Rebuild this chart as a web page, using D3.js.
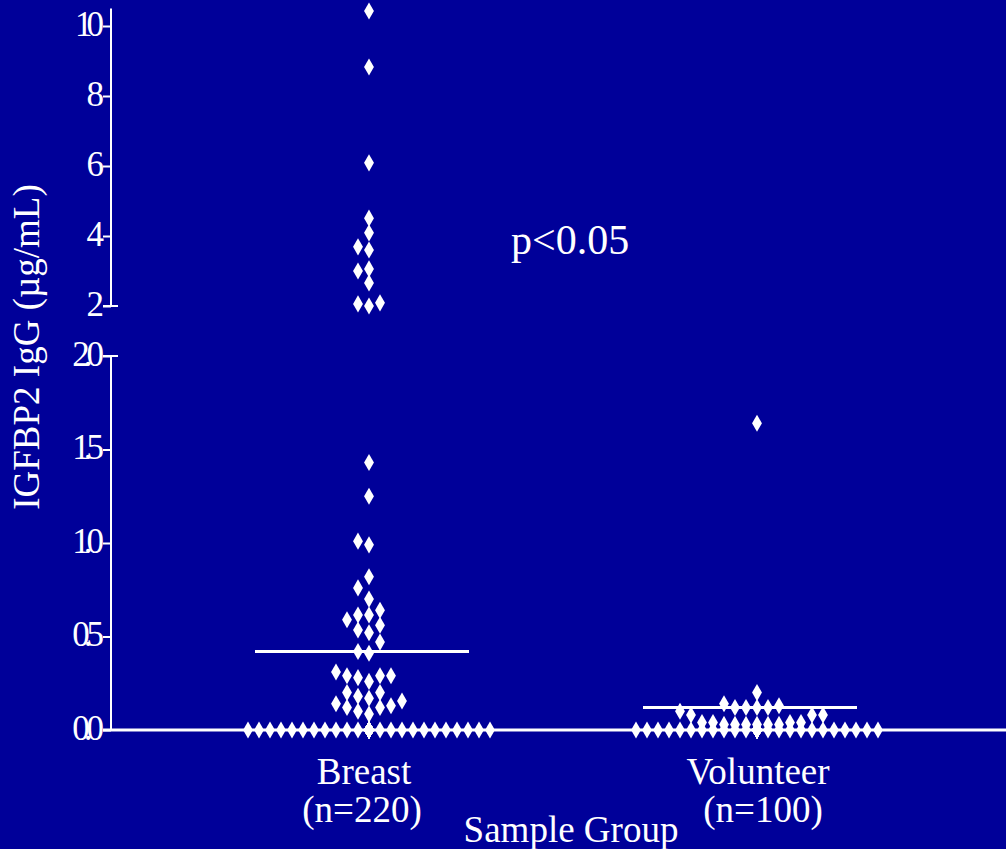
<!DOCTYPE html>
<html>
<head>
<meta charset="utf-8">
<script src="https://cdn.jsdelivr.net/npm/d3@7"></script>
<style>
  html, body { margin: 0; padding: 0; background: #000099; }
  svg { display: block; }
</style>
</head>
<body>
<svg id="chart" width="1006" height="849"></svg>
<script>
// IGFBP2 IgG antibody levels (µg/mL) per serum sample
const groups = ["Breast", "Volunteer"];
const groupSizes = ["(n=220)", "(n=100)"];

// Non-zero measurements; the remaining samples of each group read 0.0
const breastValues = [
  10.43, 8.83, 6.09, 4.51, 4.09, 3.69, 3.60, 3.06, 3.00, 2.66, 2.09, 2.06, 2.00,
  1.43, 1.25, 1.01, 0.99, 0.82, 0.76, 0.70, 0.64, 0.615, 0.615, 0.59, 0.56,
  0.535, 0.52, 0.47, 0.42, 0.41, 0.31, 0.29, 0.29, 0.29, 0.28, 0.26, 0.20,
  0.20, 0.18, 0.17, 0.155, 0.14, 0.13, 0.12, 0.12, 0.10, 0.085
];
const breastZeroCount = 173;

const volunteerValues = [
  1.64, 0.20, 0.14, 0.13, 0.12, 0.12, 0.12, 0.12, 0.10, 0.08, 0.08, 0.08,
  0.04, 0.04, 0.04, 0.04, 0.03, 0.03, 0.03, 0.03, 0.03, 0.03
];
const volunteerZeroCount = 78;

const groupMeans = [0.42, 0.12];

const lowerTicks = [0, 0.5, 1.0, 1.5, 2.0];
const upperTicks = [2, 4, 6, 8, 10];

const yTitle = "IGFBP2 IgG (µg/mL)";
const xTitle = "Sample Group";
const pLabel = "p<0.05";

// ---- layout ----
const W = 1006, H = 849;
const axisX = 111;
const font = "'Liberation Serif', 'Times New Roman', serif";

const svg = d3.select("#chart");
svg.append("rect").attr("width", W).attr("height", H).attr("fill", "#000099");

// Broken y axis: a stretched 0-2 segment below, a compressed 2-10 segment above
const yLow = d3.scaleLinear().domain([0, 2]).range([730, 356]);
const yHigh = d3.scaleLinear().domain([2, 10.5]).range([306, 8.5]);
const y = v => (v < 2 ? yLow(v) : yHigh(v));

const x = d3.scalePoint().domain(groups).range([369, 757]);

// Column-scatter placement: each point takes the slot nearest the centre
// that keeps it clear of points already placed in that slot
const slotWidth = 11, maxSide = 11, minGap = 14;
function placePoints(values, zeroCount, cx) {
  const all = values.concat(d3.range(zeroCount).map(() => 0)).sort(d3.ascending);
  const order = [0];
  for (let k = 1; k <= maxSide; k++) order.push(-k, k);
  const slots = new Map(order.map(s => [s, []]));
  return all.map(v => {
    const py = y(v);
    let chosen = null, best = -1, bestSlot = 0;
    for (const s of order) {
      const ys = slots.get(s);
      const gap = ys.length ? d3.min(ys, q => Math.abs(q - py)) : Infinity;
      if (gap >= minGap) { chosen = s; break; }
      if (gap > best) { best = gap; bestSlot = s; }
    }
    if (chosen === null) chosen = bestSlot;
    slots.get(chosen).push(py);
    return { value: v, x: cx + chosen * slotWidth, y: py };
  });
}

const series = [
  placePoints(breastValues, breastZeroCount, x("Breast")),
  placePoints(volunteerValues, volunteerZeroCount, x("Volunteer"))
];

// ---- axes ----
const tickStyle = g => {
  g.select(".domain").remove();
  g.selectAll(".tick line").attr("stroke", "#fff").attr("stroke-width", 2);
  g.selectAll(".tick text")
    .attr("fill", "#fff")
    .attr("font-family", font)
    .attr("font-size", 35)
    .attr("letter-spacing", "-6px")
    .attr("x", -13)
    .attr("dy", "0.27em");
};

svg.append("g")
  .attr("transform", `translate(${axisX},0)`)
  .call(d3.axisLeft(yLow).tickValues(lowerTicks).tickFormat(d3.format(".1f")).tickSize(8).tickPadding(0))
  .call(tickStyle);

svg.append("g")
  .attr("transform", `translate(${axisX},0)`)
  .call(d3.axisLeft(yHigh).tickValues(upperTicks).tickFormat(d3.format("d")).tickSize(8).tickPadding(0))
  .call(tickStyle);

// axis spines
svg.append("line").attr("x1", axisX).attr("x2", axisX)
  .attr("y1", yHigh.range()[1]).attr("y2", yHigh(2))
  .attr("stroke", "#fff").attr("stroke-width", 2);
svg.append("line").attr("x1", axisX).attr("x2", axisX)
  .attr("y1", yLow(2)).attr("y2", yLow(0))
  .attr("stroke", "#fff").attr("stroke-width", 2);

// break marks: the segment ends stick out to the right
[yHigh(2), yLow(2)].forEach(py => {
  svg.append("line").attr("x1", axisX - 8).attr("x2", axisX + 7)
    .attr("y1", py).attr("y2", py)
    .attr("stroke", "#fff").attr("stroke-width", 2);
});

// zero baseline across the plot
svg.append("line").attr("x1", axisX - 8).attr("x2", W)
  .attr("y1", yLow(0)).attr("y2", yLow(0))
  .attr("stroke", "#fff").attr("stroke-width", 3);

// ---- points ----
const diamond = d3.symbol().type(d3.symbolDiamond).size(84);
series.forEach(pts => {
  svg.append("g").selectAll("path")
    .data(pts)
    .join("path")
    .attr("d", diamond)
    .attr("transform", d => `translate(${d.x},${d.y})`)
    .attr("fill", "#fff");
});

// ---- group means ----
svg.append("g").selectAll("line")
  .data(groups)
  .join("line")
  .attr("x1", g => x(g) - 114)
  .attr("x2", g => x(g) + 100)
  .attr("y1", (g, i) => y(groupMeans[i]))
  .attr("y2", (g, i) => y(groupMeans[i]))
  .attr("stroke", "#fff").attr("stroke-width", 3);

// ---- text ----
const txt = (s, px, py, size, anchor = "middle") =>
  svg.append("text").text(s)
    .attr("x", px).attr("y", py)
    .attr("fill", "#fff")
    .attr("font-family", font)
    .attr("font-size", size)
    .attr("text-anchor", anchor);

txt(groups[0], x(groups[0]) - 5, 784, 37);
txt(groupSizes[0], x(groups[0]) - 7, 822, 37);
txt(groups[1], x(groups[1]) + 1, 784, 37);
txt(groupSizes[1], x(groups[1]) + 6, 822, 37);
txt(xTitle, 571, 842, 37);
txt(pLabel, 511, 254, 42, "start");

svg.append("text").text(yTitle)
  .attr("transform", "translate(39,347) rotate(-90)")
  .attr("fill", "#fff")
  .attr("font-family", font)
  .attr("font-size", 37)
  .attr("text-anchor", "middle");
</script>
</body>
</html>
